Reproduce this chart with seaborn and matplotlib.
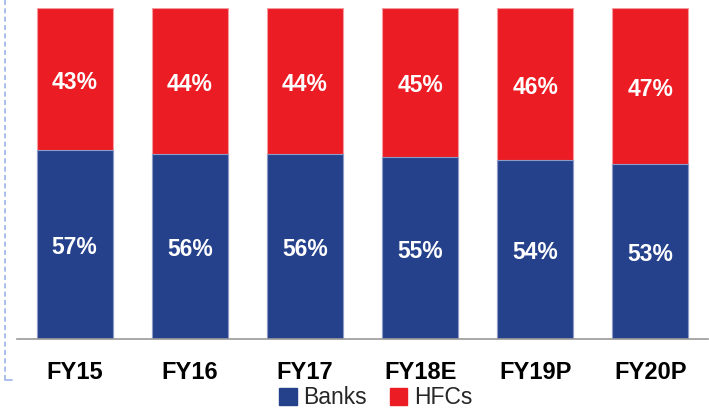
import pandas as pd
import numpy as np
import seaborn as sns
import matplotlib.pyplot as plt
from matplotlib.lines import Line2D
from matplotlib.patches import Patch

# data
years = ['FY15', 'FY16', 'FY17', 'FY18E', 'FY19P', 'FY20P']
banks = [57, 56, 56, 55, 54, 53]
hfcs = [43, 44, 44, 45, 46, 47]

blue = '#26418c'
red = '#ec1c24'

sns.set_theme(style='white')
plt.rcParams['font.family'] = ['Liberation Sans', 'DejaVu Sans']

df = pd.DataFrame({'year': years, 'Banks': banks, 'HFCs': hfcs})
df['total'] = df['Banks'] + df['HFCs']

fig = plt.figure(figsize=(7.09, 4.08), dpi=100)
ax = fig.add_axes([17/709, 1-339/408, 691/709, 331/408])

# stacked bars: total in red, banks on top in blue
sns.barplot(data=df, x='year', y='total', color=red, width=0.66, ax=ax,
            saturation=1, edgecolor='#f59aa0', linewidth=0.8)
sns.barplot(data=df, x='year', y='Banks', color=blue, width=0.66, ax=ax,
            saturation=1, edgecolor='#8c9cc8', linewidth=0.8)

# labels inside the segments
for i in range(df.shape[0]):
    b = df['Banks'].iloc[i]
    h = df['HFCs'].iloc[i]
    ax.text(i, b / 2 - 1, f'{b}%', ha='center', va='center', color='white',
            fontsize=16.5, fontweight='bold')
    ax.text(i, b + h / 2 - 1, f'{h}%', ha='center', va='center', color='white',
            fontsize=16.5, fontweight='bold')

ax.set_ylim(0, 100)
ax.set_xlim(-0.5, len(years) - 0.5)
ax.set_xlabel('')
ax.set_ylabel('')
ax.set_yticks([])
for s in ['top', 'right', 'left']:
    ax.spines[s].set_visible(False)
ax.spines['bottom'].set_color('#9a9a9a')
ax.spines['bottom'].set_linewidth(1.2)

# category boundaries as tick marks
ax.set_xticks(np.arange(-0.5, len(years)), minor=True)
ax.tick_params(axis='x', which='minor', length=7, color='#9a9a9a', width=1.2, direction='out')
ax.tick_params(axis='x', which='major', length=0, pad=16)
for t in ax.get_xticklabels():
    t.set_fontsize(17)
    t.set_fontweight('bold')
    t.set_color('black')

# dashed frame line on the left
fig.add_artist(Line2D([5/709, 5/709], [1, 1-380/408], transform=fig.transFigure,
                      color='#9db3e8', lw=1.2, linestyle=(0, (3, 2))))
fig.add_artist(Line2D([5/709, 12/709], [1-380/408, 1-380/408], transform=fig.transFigure,
                      color='#9db3e8', lw=1.2))

handles = [Patch(color=blue, label='Banks'), Patch(color=red, label='HFCs')]
fig.legend(handles=handles, loc='center', bbox_to_anchor=(376/709, 10/408), ncol=2,
           frameon=False, fontsize=16.5, handlelength=0.75, handleheight=0.75,
           handletextpad=0.3, columnspacing=1.0, borderpad=0)

plt.savefig('out.png', dpi=100)
plt.close('all')
